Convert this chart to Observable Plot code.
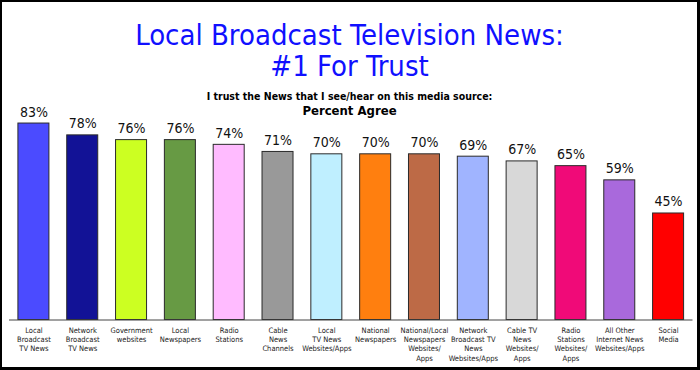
<!DOCTYPE html>
<html>
<head>
<meta charset="utf-8">
<script src="https://cdn.jsdelivr.net/npm/d3@7"></script>
<script src="https://cdn.jsdelivr.net/npm/@observablehq/plot@0.6"></script>
<style>
  html, body { margin: 0; padding: 0; background: #fff; }
  #frame {
    position: relative; width: 700px; height: 370px; box-sizing: border-box;
    border-style: solid; border-color: #000; border-width: 2px 3px 3px 2px;
    background: #fff; overflow: hidden;
    font-family: "DejaVu Sans Condensed", "DejaVu Sans", sans-serif;
  }
  #chart { position: absolute; left: 0; top: 0; }
  .t { position: absolute; left: 0; width: 695px; text-align: center; white-space: nowrap; }
  .title { color: #1010ff; font-size: 29px; line-height: 29px; }
  .sub { color: #000; font-weight: bold; }
</style>
</head>
<body>
<div id="frame">
  <div id="chart"></div>
  <div class="t title" style="top:19px">Local Broadcast Television News:</div>
  <div class="t title" style="top:50px">#1 For Trust</div>
  <div class="t sub" style="top:89px;font-size:10.5px;line-height:10.5px">I trust the News that I see/hear on this media source:</div>
  <div class="t sub" style="top:102px;font-size:13px;line-height:13px">Percent Agree</div>
</div>
<script>
const categories = [
  "Local Broadcast TV News", "Network Broadcast TV News", "Government websites",
  "Local Newspapers", "Radio Stations", "Cable News Channels",
  "Local TV News Websites/Apps", "National Newspapers",
  "National/Local Newspapers Websites/Apps", "Network Broadcast TV News Websites/Apps",
  "Cable TV News Websites/Apps", "Radio Stations Websites/Apps",
  "All Other Internet News Websites/Apps", "Social Media"
];
const values = [83, 78, 76, 76, 74, 71, 70, 70, 70, 69, 67, 65, 59, 45];
const colors = [
  "#4b4bff", "#121296", "#ccff22", "#679a44", "#ffbbff", "#999999", "#bfefff",
  "#ff7f0f", "#bd6a46", "#a0b4ff", "#d8d8d8", "#f00a78", "#a969dc", "#ff0000"
];
const tickLabels = [
  "Local\nBroadcast\nTV News", "Network\nBroadcast\nTV News", "Government\nwebsites",
  "Local\nNewspapers", "Radio\nStations", "Cable\nNews\nChannels",
  "Local\nTV News\nWebsites/Apps", "National\nNewspapers",
  "National/Local\nNewspapers\nWebsites/\nApps", "Network\nBroadcast TV\nNews\nWebsites/Apps",
  "Cable TV\nNews\nWebsites/\nApps", "Radio\nStations\nWebsites/\nApps",
  "All Other\nInternet News\nWebsites/Apps", "Social\nMedia"
];

const data = categories.map((c, i) => ({cat: c, value: values[i], color: colors[i], label: tickLabels[i]}));
const labelOf = new Map(data.map(d => [d.cat, d.label]));

const chart = Plot.plot({
  width: 695,
  height: 365,
  marginLeft: 7,
  marginRight: 4.5,
  marginTop: 80.8,
  marginBottom: 47.5,
  style: {fontFamily: "'DejaVu Sans Condensed', 'DejaVu Sans', sans-serif", background: "transparent"},
  x: {domain: categories, paddingInner: 0.365, paddingOuter: 0.1825, round: false, axis: null, label: null},
  y: {domain: [0, 100], axis: null, label: null},
  color: {type: "identity"},
  marks: [
    Plot.barY(data, {x: "cat", y: "value", fill: "color", stroke: "#2a2a2a", strokeWidth: 1}),
    Plot.ruleY([0], {stroke: "#444", strokeWidth: 1}),
    Plot.text(data, {x: "cat", y: "value", text: d => d.value + "%", dy: -7, lineAnchor: "bottom", fontSize: 14, fill: "#111"}),
    Plot.axisX({tickSize: 0, tickPadding: 6, tickFormat: d => labelOf.get(d), label: null, fontSize: 7.5, lineHeight: 1.25, lineAnchor: "top", fill: "#222"})
  ]
});
document.getElementById("chart").appendChild(chart);
</script>
</body>
</html>
